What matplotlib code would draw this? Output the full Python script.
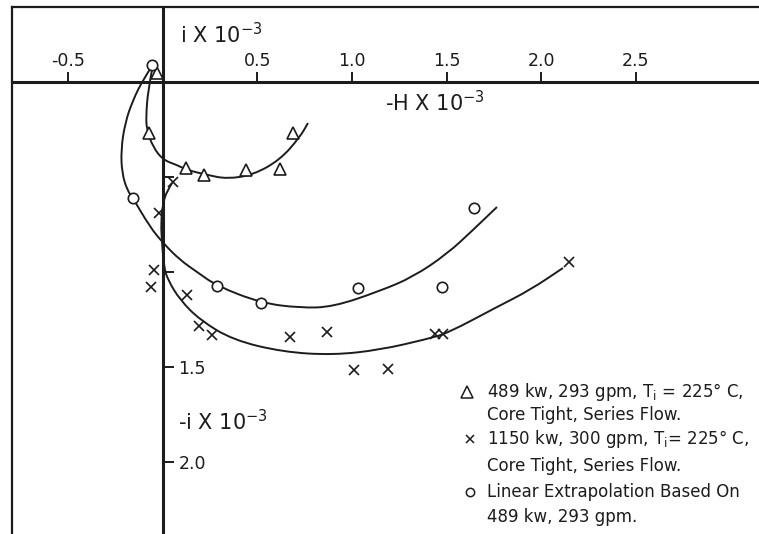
import matplotlib
matplotlib.use("Agg")
import matplotlib.pyplot as plt
from matplotlib.path import Path
from matplotlib.patches import PathPatch

plt.rcParams['font.family'] = ['DejaVu Sans']
plt.rcParams['mathtext.default'] = 'regular'

ink = '#1c1c1c'

# measured points, -H (x 10^-3) against i (x 10^-3)
tri_h = [-0.032, -0.074, 0.122, 0.217, 0.439, 0.619, 0.688]
tri_i = [0.047, -0.268, -0.453, -0.489, -0.463, -0.458, -0.268]

cross_h = [0.053, -0.021, -0.048, -0.063, 0.127, 0.190, 0.259,
           0.672, 0.868, 1.011, 1.190, 1.439, 1.481, 2.148]
cross_i = [-0.526, -0.689, -0.989, -1.079, -1.121, -1.284, -1.332,
           -1.342, -1.316, -1.516, -1.511, -1.326, -1.326, -0.947]

circ_h = [-0.058, -0.159, 0.286, 0.519, 1.032, 1.476, 1.646]
circ_i = [0.089, -0.611, -1.074, -1.163, -1.084, -1.079, -0.663]

# faired curves through each set (guide points along the hand-drawn line)
tri_curve_h = [-0.058, -0.079, -0.090, -0.085, -0.053, 0.000, 0.074, 0.127,
               0.233, 0.339, 0.476, 0.619, 0.725, 0.767]
tri_curve_i = [0.063, -0.042, -0.184, -0.253, -0.342, -0.410, -0.437, -0.463,
               -0.489, -0.510, -0.489, -0.410, -0.289, -0.216]

circ_curve_h = [-0.058, -0.106, -0.159, -0.201, -0.222, -0.217, -0.190, -0.159,
                -0.069, 0.000, 0.090, 0.180, 0.286, 0.519, 0.725, 0.899,
                1.148, 1.323, 1.503, 1.640, 1.767]
circ_curve_i = [0.084, 0.011, -0.095, -0.216, -0.358, -0.479, -0.568, -0.611,
                -0.763, -0.847, -0.937, -1.000, -1.074, -1.163, -1.189, -1.184,
                -1.100, -1.026, -0.905, -0.779, -0.658]

cross_curve_h = [0.048, 0.021, 0.000, -0.011, -0.005, 0.005, 0.026, 0.090,
                 0.196, 0.370, 0.635, 0.899, 1.148, 1.397, 1.508, 1.767,
                 1.942, 2.116]
cross_curve_i = [-0.532, -0.574, -0.637, -0.742, -0.847, -0.974, -1.042, -1.147,
                 -1.253, -1.358, -1.421, -1.437, -1.410, -1.353, -1.321, -1.184,
                 -1.095, -0.979]

x_ticks = [-0.5, 0.5, 1.0, 1.5, 2.0, 2.5]
x_labels = ['-0.5', '0.5', '1.0', '1.5', '2.0', '2.5']
y_ticks = [-0.5, -1.0, -1.5, -2.0]
y_labels = ['', '', '1.5', '2.0']

legend_lines = [
    '489 kw, 293 gpm, T$_i$ = 225° C,',
    'Core Tight, Series Flow.',
    '1150 kw, 300 gpm, T$_i$= 225° C,',
    'Core Tight, Series Flow.',
    'Linear Extrapolation Based On',
    '489 kw, 293 gpm.',
]


def smooth_path(xs, ys):
    # quadratic segments: guide points act as controls, midpoints as knots
    pts = list(zip(xs, ys))
    verts = [pts[0]]
    codes = [Path.MOVETO]
    for k in range(1, len(pts) - 1):
        mid = ((pts[k][0] + pts[k + 1][0]) / 2, (pts[k][1] + pts[k + 1][1]) / 2)
        verts += [pts[k], mid]
        codes += [Path.CURVE3, Path.CURVE3]
    verts.append(pts[-1])
    codes.append(Path.LINETO)
    return Path(verts, codes)


fig = plt.figure(figsize=(7.59, 5.34), dpi=100)
ax = fig.add_axes([0, 0, 1, 1])
ax.set_xlim(-0.8624, 3.1534)
ax.set_ylim(-2.379, 0.4316)

# axes crossing at the origin
for side in ['left', 'bottom']:
    ax.spines[side].set_visible(False)
ax.spines['top'].set_position(('data', 0))
ax.spines['right'].set_position(('data', 0))
ax.spines['top'].set_bounds(-0.80, 3.1534)
ax.spines['right'].set_bounds(-2.379, 0.395)
for side in ['top', 'right']:
    ax.spines[side].set_linewidth(2.2)
    ax.spines[side].set_color(ink)

ax.xaxis.set_ticks_position('top')
ax.yaxis.set_ticks_position('right')
ax.set_xticks(x_ticks)
ax.set_xticklabels(x_labels)
ax.set_yticks(y_ticks)
ax.set_yticklabels(y_labels)
ax.tick_params(axis='x', direction='out', length=7, width=1.4, pad=2,
               labelsize=12.5, colors=ink)
ax.tick_params(axis='y', direction='out', length=8, width=1.4, pad=3,
               labelsize=12.5, colors=ink)

# outer frame, left and top edges only
ax.plot([0.016, 0.016], [0, 0.987], transform=ax.transAxes, color=ink, lw=1.6,
        clip_on=False)
ax.plot([0.016, 1.0], [0.987, 0.987], transform=ax.transAxes, color=ink, lw=1.6,
        clip_on=False)

for cx, cy in [(tri_curve_h, tri_curve_i), (circ_curve_h, circ_curve_i),
               (cross_curve_h, cross_curve_i)]:
    ax.add_patch(PathPatch(smooth_path(cx, cy), fill=False, edgecolor=ink,
                           lw=1.4, zorder=2))

ax.plot(tri_h, tri_i, ls='none', marker='^', ms=9, mfc='white', mec=ink, mew=1.2, zorder=3)
ax.plot(circ_h, circ_i, ls='none', marker='o', ms=7.5, mfc='white', mec=ink, mew=1.2, zorder=3)
ax.plot(cross_h, cross_i, ls='none', marker='x', ms=6.5, mec=ink, mew=1.2, zorder=3)

ax.text(0.09, 0.247, 'i X 10$^{-3}$', fontsize=15, color=ink, va='center')
ax.text(1.175, -0.11, '-H X 10$^{-3}$', fontsize=15, color=ink, va='center')
ax.text(0.079, -1.79, '-i X 10$^{-3}$', fontsize=15, color=ink, va='center')

# key, written out line by line
row_y = [392, 415, 439, 466, 492, 517]
for text, py in zip(legend_lines, row_y):
    ax.text(487 / 759, 1 - py / 534, text, transform=ax.transAxes, fontsize=12,
            color=ink, va='center', ha='left')
ax.plot([467 / 759], [1 - 392 / 534], transform=ax.transAxes, marker='^', ms=8,
        mfc='white', mec=ink, mew=1.1, ls='none')
ax.plot([470 / 759], [1 - 439 / 534], transform=ax.transAxes, marker='x', ms=5.5,
        mec=ink, mew=1.1, ls='none')
ax.plot([470 / 759], [1 - 492 / 534], transform=ax.transAxes, marker='o', ms=6,
        mfc='white', mec=ink, mew=1.1, ls='none')

fig.savefig('out.png', dpi=100, facecolor='white')
